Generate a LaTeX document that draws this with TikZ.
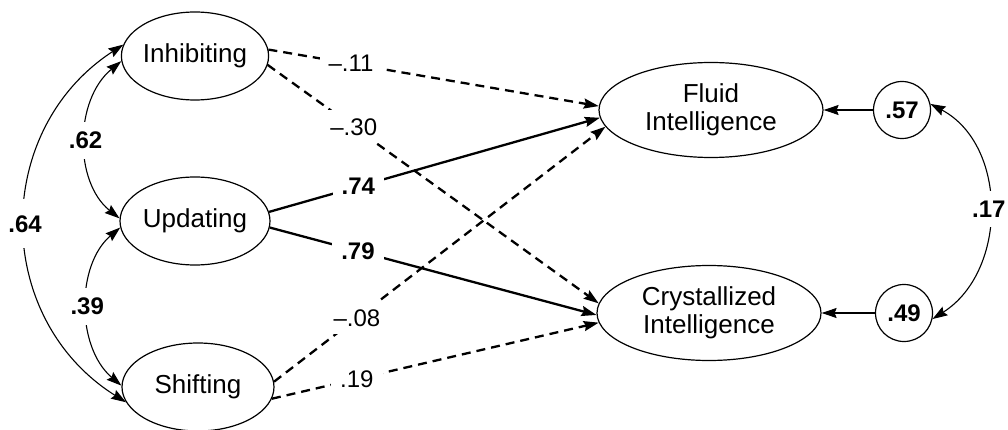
\documentclass[tikz,border=0pt]{standalone}
\usepackage{fontspec}
\setmainfont{Liberation Sans}
\usetikzlibrary{arrows.meta,shapes.geometric}
\begin{document}
\begin{tikzpicture}[x=1pt,y=-1pt,
  latent/.style={ellipse,draw,line width=1.2pt,inner sep=0pt,align=center,
    font=\fontsize{26}{28}\selectfont},
  resid/.style={circle,draw,line width=1.2pt,minimum size=57pt,inner sep=0pt,
    font=\fontsize{24}{26}\selectfont\bfseries},
  arrowtip/.style={-{Stealth[length=15pt,width=10pt,inset=2pt]}},
  effect/.style={arrowtip,line width=2.3pt},
  weak/.style={effect,dash pattern=on 9pt off 6pt},
  covar/.style={line width=1.1pt,
    {Stealth[length=15pt,width=10pt,inset=2pt]}-{Stealth[length=15pt,width=10pt,inset=2pt]}},
  coef/.style={fill=white,inner xsep=9pt,inner ysep=2pt,font=\fontsize{24}{26}\selectfont},
  bcoef/.style={coef,font=\fontsize{24}{26}\selectfont\bfseries},
  ccoef/.style={bcoef,inner xsep=3pt,inner ysep=10pt}
]
\useasboundingbox (0,0) rectangle (1008,430);

% executive functions
\node[latent,minimum width=146pt,minimum height=88pt] (inh) at (195,56) {Inhibiting};
\node[latent,minimum width=150pt,minimum height=88pt] (upd) at (195,221) {Updating};
\node[latent,minimum width=152pt,minimum height=88pt] (shi) at (198,387) {Shifting};

% intelligence factors
\node[latent,minimum width=224pt,minimum height=95pt] (gf) at (711,110) {Fluid\\Intelligence};
\node[latent,minimum width=224pt,minimum height=95pt] (gc) at (709,313) {Crystallized\\Intelligence};

% residuals
\node[resid] (e1) at (902,110) {.57};
\node[resid] (e2) at (904,313) {.49};

% structural paths
\draw[weak]   (inh.5)  -- node[coef,pos=.25]{\textendash.11} (gf.178);
\draw[weak]   (inh.-7) -- node[coef,pos=.26,inner xsep=3pt,inner ysep=8pt]{\textendash.30} (gc.175);
\draw[effect] (upd.7)  -- node[bcoef,pos=.27]{.74} (gf.184);
\draw[effect] (upd.-5) -- node[bcoef,pos=.27]{.79} (gc.181);
\draw[weak]   (shi.4)  -- node[coef,pos=.25,inner xsep=3pt,inner ysep=8pt]{\textendash.08} (gf.189);
\draw[weak]   (shi.-9) -- node[coef,pos=.26]{.19} (gc.185);

% residual paths
\draw[arrowtip,line width=1.1pt] (e1) -- (gf);
\draw[arrowtip,line width=1.1pt] (e2) -- (gc);

% correlations
\draw[covar] (inh.171) .. controls (-8,130) and (-8,318) .. node[ccoef,inner ysep=16pt]{.64} (shi.192);
\draw[covar] (inh.184) .. controls (74,100) and (74,182) .. node[ccoef]{.62} (upd.178);
\draw[covar] (upd.185) .. controls (76,265) and (76,347) .. node[ccoef]{.39} (shi.179);
\draw[covar] (e1.12) .. controls (1008,145) and (1008,271) .. node[ccoef]{.17} (e2.-12);
\end{tikzpicture}
\end{document}
